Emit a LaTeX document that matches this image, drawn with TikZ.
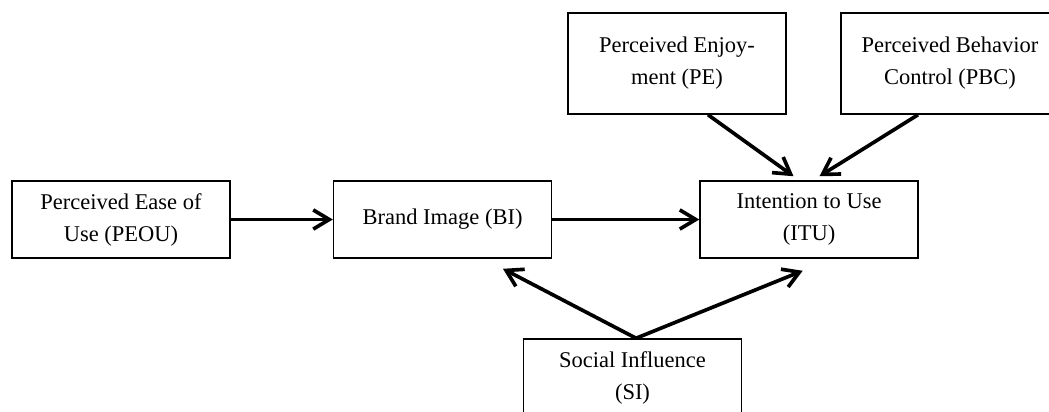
\documentclass[tikz,border=0pt]{standalone}
\usepackage{fontspec}
\setmainfont{Liberation Serif}
\usetikzlibrary{arrows.meta, positioning}

\begin{document}
\begin{tikzpicture}[
    every node/.style={font=\fontsize{16}{22.8}\selectfont},
    construct/.style={
        rectangle,
        draw=black,
        line width=1.1pt,
        fill=white,
        minimum width=5.45cm,
        minimum height=1.925cm,
        inner sep=0pt,
        align=center
    },
    tallconstruct/.style={
        construct,
        minimum height=2.525cm
    },
    arrow/.style={
        line width=2.6pt,
        -{Straight Barb[length=4mm, width=4.8mm]},
        draw=black
    }
]
\useasboundingbox (0,0) rectangle (26.225,-10.3);

% ==================== MIDDLE ROW ====================
\node (peou) [construct] at (3.025, -5.4875) {Perceived Ease of\\Use (PEOU)};
\node (bi) [construct, right=2.55cm of peou] {Brand Image (BI)};
\node (itu) [construct, right=3.675cm of bi] {Intention to Use\\(ITU)};

% ==================== TOP ROW ====================
\node (pe) [tallconstruct] at (16.925, -1.5875) {Perceived Enjoy-\\ment (PE)};
\node (pbc) [tallconstruct] at (23.75, -1.5875) {Perceived Behavior\\Control (PBC)};

% ==================== BOTTOM ====================
\node (si) [construct] at (15.8125, -9.4375) {Social Influence\\(SI)};

\draw [arrow] (peou) -- (bi);
\draw [arrow] (bi) -- (itu);
\draw [arrow] ([xshift=0.775cm]pe.south) -- ([xshift=-0.39cm, yshift=0.1cm]itu.north);
\draw [arrow] ([xshift=-0.8cm]pbc.south) -- ([xshift=0.26cm, yshift=0.1cm]itu.north);
\draw [arrow] ([xshift=0.09cm]si.north) -- ([xshift=1.51cm, yshift=-0.25cm]bi.south);
\draw [arrow] ([xshift=0.09cm]si.north) -- ([xshift=-0.16cm, yshift=-0.3cm]itu.south);

\end{tikzpicture}
\end{document}
